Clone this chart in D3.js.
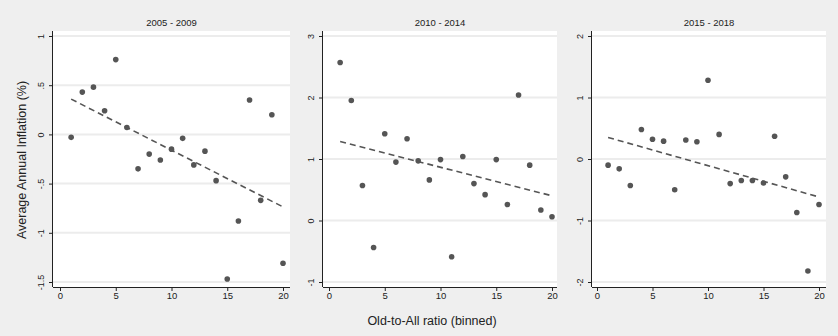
<!DOCTYPE html>
<html>
<head>
<meta charset="utf-8">
<script src="https://cdn.jsdelivr.net/npm/d3@7"></script>
<style>
  body { margin: 0; background: #efefef; }
  text { font-family: "Liberation Sans", Arial, sans-serif; fill: #222; }
</style>
</head>
<body>
<div id="chart"></div>
<script>
const bins = d3.range(1, 21);

const titles = ['2005 - 2009', '2010 - 2014', '2015 - 2018'];

const infl0509 = [-0.03, 0.43, 0.48, 0.24, 0.76, 0.07, -0.35, -0.20, -0.26, -0.15,
                  -0.04, -0.31, -0.17, -0.47, -1.47, -0.88, 0.35, -0.67, 0.20, -1.31];
const infl1014 = [2.57, 1.95, 0.57, -0.44, 1.41, 0.95, 1.33, 0.97, 0.66, 0.99,
                  -0.59, 1.04, 0.60, 0.42, 0.99, 0.26, 2.04, 0.90, 0.17, 0.06];
const infl1518 = [-0.10, -0.16, -0.43, 0.48, 0.32, 0.29, -0.50, 0.31, 0.28, 1.28,
                  0.40, -0.40, -0.35, -0.35, -0.39, 0.37, -0.29, -0.87, -1.82, -0.74];

const yDomains = [[-1.5, 1], [-1, 3], [-2, 2]];
const yTicks = [[-1.5, -1, -0.5, 0, 0.5, 1], [-1, 0, 1, 2, 3], [-2, -1, 0, 1, 2]];
const xTicks = [0, 5, 10, 15, 20];

const series = [infl0509, infl1014, infl1518];

// stata style tick labels: .5, -.5
const stataFmt = v => {
    let s = String(v);
    return s.replace(/^0\./, '.').replace(/^-0\./, '-.');
};

const width = 838;
const height = 336;

const panels = [
    { left: 53, right: 290, x0: 60, x1: 283 },
    { left: 323, right: 557, x0: 329, x1: 552 },
    { left: 592, right: 826, x0: 597, x1: 819 }
];
const plotTop = 31;
const axisY = 287;
const yTop = 36;
const yBottom = 282;

const svg = d3.select('#chart')
    .append('svg')
    .attr('width', width)
    .attr('height', height);

svg.append('rect')
    .attr('width', width)
    .attr('height', height)
    .attr('fill', '#efefef');

function ols(xs, ys) {
    const mx = d3.mean(xs), my = d3.mean(ys);
    let num = 0, den = 0;
    xs.forEach((x, i) => {
        num += (x - mx) * (ys[i] - my);
        den += (x - mx) * (x - mx);
    });
    const b = num / den;
    return { a: my - b * mx, b };
}

panels.forEach((p, k) => {
    const data = series[k];
    const x = d3.scaleLinear().domain([0, 20]).range([p.x0, p.x1]);
    const y = d3.scaleLinear().domain(yDomains[k]).range([yBottom, yTop]);

    const g = svg.append('g');

    // plot region
    g.append('rect')
        .attr('x', p.left)
        .attr('y', plotTop)
        .attr('width', p.right - p.left)
        .attr('height', axisY - plotTop)
        .attr('fill', '#ffffff');

    // gridlines
    g.selectAll('.grid')
        .data(yTicks[k])
        .enter()
        .append('line')
        .attr('x1', p.left)
        .attr('x2', p.right)
        .attr('y1', d => y(d))
        .attr('y2', d => y(d))
        .style('stroke', '#ececec')
        .style('stroke-width', 2);

    // y axis
    const yAxis = d3.axisLeft(y)
        .tickValues(yTicks[k])
        .tickSize(4)
        .tickPadding(3)
        .tickFormat(stataFmt);

    const ya = g.append('g')
        .attr('transform', `translate(${p.left},0)`)
        .call(yAxis);
    ya.select('.domain')
        .attr('d', `M-0.5,${plotTop}V${axisY}`)
        .style('stroke', '#222');
    ya.selectAll('.tick line').style('stroke', '#222');
    ya.selectAll('.tick text')
        .attr('x', null)
        .attr('dy', null)
        .attr('transform', 'translate(-9,0) rotate(-90)')
        .attr('text-anchor', 'middle')
        .style('font-size', '9px')
        .style('font-family', '"Liberation Sans", Arial, sans-serif')
        .style('fill', '#222');

    // x axis
    const xAxis = d3.axisBottom(x)
        .tickValues(xTicks)
        .tickSize(4)
        .tickPadding(1);

    const xa = g.append('g')
        .attr('transform', `translate(0,${axisY})`)
        .call(xAxis);
    xa.select('.domain')
        .attr('d', `M${p.left},0.5H${p.right}`)
        .style('stroke', '#222');
    xa.selectAll('.tick line').style('stroke', '#222');
    xa.selectAll('.tick text')
        .style('font-size', '9.5px')
        .style('font-family', '"Liberation Sans", Arial, sans-serif')
        .style('fill', '#222');

    // fitted line
    const fit = ols(bins, data);
    const line = d3.line()
        .x(d => x(d))
        .y(d => y(fit.a + fit.b * d));

    g.append('path')
        .datum([bins[0], bins[bins.length - 1]])
        .attr('fill', 'none')
        .attr('stroke', '#555')
        .attr('stroke-width', 1.6)
        .attr('stroke-dasharray', '6,4')
        .attr('d', line);

    // points
    g.selectAll('.dot')
        .data(data)
        .enter()
        .append('circle')
        .attr('cx', (d, i) => x(bins[i]))
        .attr('cy', d => y(d))
        .attr('r', 2.8)
        .attr('fill', '#555');

    // panel title
    g.append('text')
        .attr('x', (p.left + p.right) / 2)
        .attr('y', 26)
        .attr('text-anchor', 'middle')
        .style('font-size', '9.5px')
        .text(titles[k]);
});

svg.append('text')
    .attr('x', 432)
    .attr('y', 325)
    .attr('text-anchor', 'middle')
    .style('font-size', '12.5px')
    .text('Old-to-All ratio (binned)');

svg.append('text')
    .attr('transform', 'translate(26,160) rotate(-90)')
    .attr('text-anchor', 'middle')
    .style('font-size', '12.5px')
    .text('Average Annual Inflation (%)');
</script>
</body>
</html>
